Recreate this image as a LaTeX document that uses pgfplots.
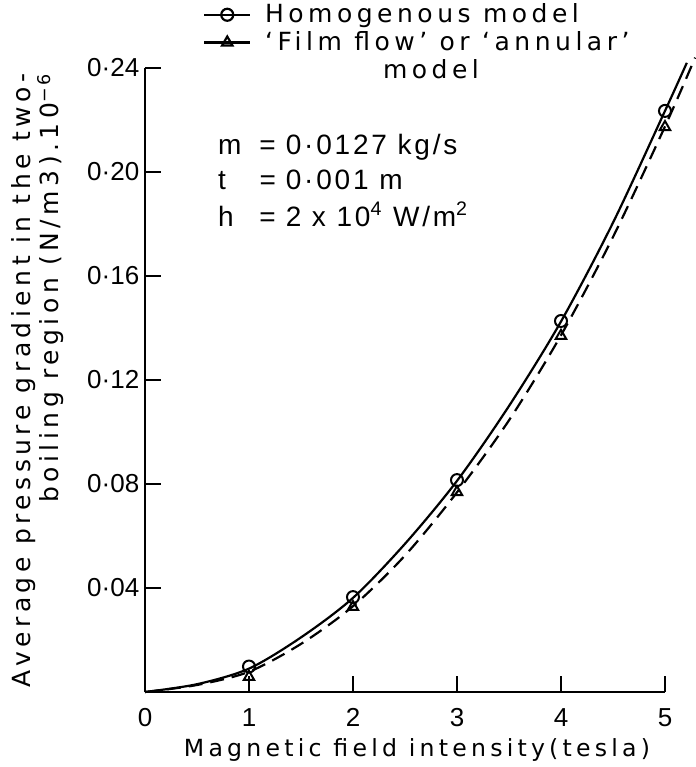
\documentclass[border=0pt]{standalone}
\usepackage{pgfplots}
\pgfplotsset{compat=1.18}
\usepackage{fontspec}
\setmainfont{DejaVu Sans}[LetterSpace=18]
\newfontfamily\numfont{Liberation Sans}
\newfontfamily\annfont{Liberation Sans}[LetterSpace=10]
\begin{document}
\fontsize{12.5}{15}\selectfont
\begin{tikzpicture}
\begin{axis}[
    scale only axis,
    width=260pt, height=312pt,
    xmin=0, xmax=5, ymin=0, ymax=0.24,
    axis lines=left,
    axis line style={-, line width=1pt},
    tick style={black, line width=1pt},
    tick align=inside,
    major tick length=8pt,
    xtick={0,1,2,3,4,5},
    xticklabels={0,1,2,3,4,5},
    ytick={0.04,0.08,0.12,0.16,0.20,0.24},
    yticklabels={0·04,0·08,0·12,0·16,0·20,0·24},
    ticklabel style={font=\numfont\fontsize{13}{15}\selectfont},
    xticklabel style={yshift=-4pt},
    yticklabel style={xshift=1.5pt},
    xlabel={Magnetic field intensity\,(tesla)},
    xlabel style={yshift=3pt, xshift=6pt, font=\fontsize{11.8}{14}\selectfont},
    ylabel={Average pressure gradient in the two-\\[-1pt]boiling region (N/m3).10\textsuperscript{−6}},
    ylabel style={align=right, yshift=3pt},
    clip=false,
    legend style={at={(axis description cs:0.1,1.117)}, anchor=north west,
        draw=none, fill=none, legend cell align=left,
        row sep=-1.5pt, nodes={inner xsep=7pt}},
    legend image code/.code={\draw[mark repeat=2,mark phase=2,#1]
        plot coordinates {(0cm,0cm) (0.4cm,0cm) (0.8cm,0cm)};},
]
\coordinate (O) at (axis cs:0,0);
\addlegendimage{black, line width=1.1pt, mark=o, mark size=3pt, mark options={fill=white}}
\addlegendentry{Homogenous model}
\addlegendimage{black, line width=1.1pt, mark=triangle, mark size=3pt, mark options={fill=white}}
\addlegendentry{‘Film flow’ or ‘annular’}

% homogenous model
\addplot[black, line width=1.1pt, smooth, forget plot] coordinates {
(0,0) (0.5,0.0030) (1,0.0090) (1.5,0.0210) (2,0.0362) (2.5,0.0570)
(3,0.0812) (3.5,0.1100) (4,0.1425) (4.5,0.1805) (5,0.2235) (5.21,0.2420)};
% film flow / annular model
\addplot[black, line width=1.1pt, dash pattern=on 7pt off 4pt, smooth, forget plot] coordinates {
(0,0) (0.5,0.0027) (1,0.0078) (1.5,0.0185) (2,0.0330) (2.5,0.0525)
(3,0.0768) (3.5,0.1045) (4,0.1372) (4.5,0.1750) (5,0.2175) (5.29,0.2440)};

\addplot[only marks, black, mark=o, mark size=3pt, line width=1pt, mark options={fill=white}, forget plot]
coordinates {(1,0.0098) (2,0.0365) (3,0.0815) (4,0.1427) (5,0.2235)};
\addplot[only marks, black, mark=triangle, mark size=3pt, line width=1pt, mark options={fill=white}, forget plot]
coordinates {(1,0.0058) (2,0.0327) (3,0.0769) (4,0.1370) (5,0.2173)};

\node at (axis description cs:0.55,0.998) {model};
\node[anchor=north west, inner sep=0pt, font=\annfont\fontsize{14}{16}\selectfont]
  at (axis cs:0.70,0.2155) {%
\begin{tabular}{@{}l@{\hspace{9pt}}l@{\hspace{5pt}}l@{}}
m & = & 0·0127 kg/s\\[1.5pt]
t & = & 0·001 m\\[1.5pt]
h & = & 2 x 10\textsuperscript{4} W/m\textsuperscript{2}
\end{tabular}};
\end{axis}
\pgfresetboundingbox
\path ([shift={(-72.5pt,-37.5pt)}]O) rectangle ([shift={(275.5pt,346pt)}]O);
\end{tikzpicture}
\end{document}
